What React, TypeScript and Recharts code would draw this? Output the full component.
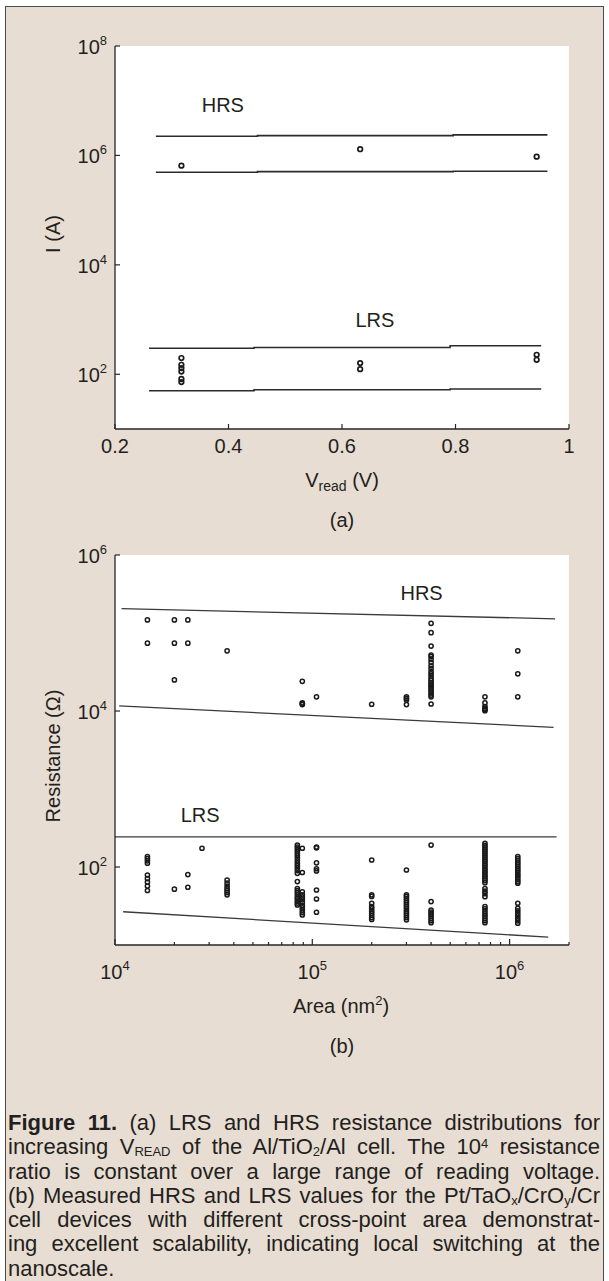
import React from 'react';
import {
  ComposedChart,
  Line,
  Scatter,
  XAxis,
  YAxis,
  CartesianGrid,
  ReferenceDot,
} from 'recharts';

const FONT = '"Liberation Sans", Arial, Helvetica, sans-serif';
const INK = '#231f20';
const FRAME = '#262626';
const BEIGE = '#e8ddd2';

// ---------- (a) read-voltage sweep, Al/TiO2/Al ----------
const vreadTicks = [0.2, 0.4, 0.6, 0.8, 1];
const currentTicks = [1e2, 1e4, 1e6, 1e8];
const vreadCols = [0.317, 0.632, 0.943];
const hrsReadVals = [[6.5e5], [1.3e6], [9.5e5]];
const lrsReadVals = [[198, 149, 130, 112, 82, 72], [160, 124], [227, 184]];
const hrsBandV = [0.272, 0.63, 0.962];
const hrsUpperA = [2.24e6, 2.3e6, 2.37e6];
const hrsLowerA = [4.93e5, 5.05e5, 5.14e5];
const lrsBandV = [0.26, 0.63, 0.951];
const lrsUpperA = [300, 308, 332];
const lrsLowerA = [50, 52, 53.7];

// ---------- (b) area scaling, Pt/TaOx/CrOy/Cr ----------
const areaTicks = [
  1e4, 2e4, 3e4, 4e4, 5e4, 6e4, 7e4, 8e4, 9e4,
  1e5, 2e5, 3e5, 4e5, 5e5, 6e5, 7e5, 8e5, 9e5,
  1e6, 2e6,
];
const resistanceTicks = [1e2, 1e4, 1e6];
const areaCols = [1.46e4, 2.0e4, 2.34e4, 2.76e4, 3.7e4, 8.4e4, 8.9e4, 1.05e5, 2.0e5, 3.0e5, 4.0e5, 7.5e5, 1.1e6];
const hrsAreaVals = [
  [1.47e5, 7.4e4],
  [1.47e5, 7.4e4, 2.5e4],
  [1.47e5, 7.4e4],
  [],
  [5.9e4],
  [],
  [2.4e4, 1.27e4, 1.24e4, 1.21e4],
  [1.52e4],
  [1.22e4],
  [1.52e4, 1.45e4, 1.38e4, 1.21e4],
  [1.33e5, 1.01e5, 6.8e4, 5.22e4, 4.99e4, 4.6e4, 4.2e4, 3.8e4, 3.5e4, 3.2e4, 3.0e4, 2.8e4, 2.6e4, 2.45e4, 2.3e4, 2.2e4, 2.1e4, 2.0e4, 1.9e4, 1.8e4, 1.7e4, 1.6e4, 1.52e4, 1.23e4],
  [1.52e4, 1.27e4, 1.14e4, 1.08e4, 1.04e4, 1.01e4],
  [5.9e4, 3.0e4, 1.52e4],
];
const lrsAreaVals = [
  [136, 128, 120, 112, 79, 71, 64, 57, 50],
  [52],
  [80, 55],
  [174],
  [68, 62, 57, 53, 50, 47, 44],
  [191, 180, 170, 160, 150, 140, 130, 120, 112, 104, 97, 90, 83, 65, 53, 50, 47, 44, 41, 39, 36.5, 34.5, 32.6],
  [174, 85, 48, 44, 41, 38, 35, 32, 30, 28, 26, 24.3],
  [180, 176, 113, 95, 89, 50.7, 38.9, 26.3],
  [123, 44, 42, 34.3, 31, 29, 27, 25.5, 24, 22.5, 21.3],
  [91.5, 44, 42, 39.5, 37, 35, 33, 31, 29, 27, 25.5, 24, 22.5, 21],
  [191, 36, 28, 26.5, 25, 23.5, 22, 20.5, 19.3],
  [201, 190, 180, 170, 160, 151, 142, 134, 126, 119, 112, 106, 100, 94, 89, 84, 79, 75, 71, 67, 63, 53, 49, 45.5, 41.6, 31, 29, 27, 25, 23.5, 22, 20.5, 19.3],
  [136, 128, 121, 114, 108, 102, 96, 91, 86, 81, 77, 73, 69, 65, 62, 34.3, 29.6, 27.5, 25.5, 23.7, 22, 20.4, 19],
];
const hrsUpperBX = [1.08e4, 1.7e6];
const hrsUpperBY = [2.05e5, 1.52e5];
const hrsLowerBX = [1.05e4, 1.67e6];
const hrsLowerBY = [1.16e4, 6.18e3];
const lrsUpperBX = [1e4, 1.73e6];
const lrsUpperBY = [243, 243];
const lrsLowerBX = [1.1e4, 1.57e6];
const lrsLowerBY = [26.7, 12.6];

const colPoints = (xs: number[], ys: number[][]) =>
  xs.flatMap((x, i) => ys[i].map((y) => ({ x, y })));
const pairLine = (xs: number[], ys: number[]) => xs.map((x, i) => ({ x, y: ys[i] }));

const hrsReadData = colPoints(vreadCols, hrsReadVals);
const lrsReadData = colPoints(vreadCols, lrsReadVals);
const hrsAreaData = colPoints(areaCols, hrsAreaVals);
const lrsAreaData = colPoints(areaCols, lrsAreaVals);

const exp10 = (v: number) => Math.round(Math.log10(v));
const isDecade = (v: number) => Math.abs(Math.log10(v) - exp10(v)) < 1e-9;

const tickLine = (x1: number, y1: number, x2: number, y2: number) => (
  <line x1={x1} y1={y1} x2={x2} y2={y2} stroke={FRAME} strokeWidth={1.2} />
);

const PowText = ({ x, y, v, anchor }: { x: number; y: number; v: number; anchor: 'start' | 'middle' | 'end' }) => (
  <text x={x} y={y} textAnchor={anchor} fontFamily={FONT} fontSize={20} fill={INK}>
    <tspan>10</tspan>
    <tspan dy={-9} fontSize={13}>{exp10(v)}</tspan>
  </text>
);

// ticks point into the plot, like the original
const vreadBottomTick = (p: any) => (
  <g>
    {tickLine(p.x, p.y, p.x, p.y - 5)}
    <text x={p.x} y={p.y + 24} textAnchor="middle" fontFamily={FONT} fontSize={20} fill={INK}>
      {p.payload.value}
    </text>
  </g>
);
const vreadTopTick = (p: any) => <g>{tickLine(p.x, p.y, p.x, p.y + 5)}</g>;

const areaBottomTick = (p: any) => {
  const v = p.payload.value;
  const major = isDecade(v);
  return (
    <g>
      {tickLine(p.x, p.y, p.x, p.y - (major ? 6 : 3))}
      {major && <PowText x={p.x} y={p.y + 34} v={v} anchor="middle" />}
    </g>
  );
};
const areaTopTick = (p: any) => {
  const major = isDecade(p.payload.value);
  return <g>{tickLine(p.x, p.y, p.x, p.y + (major ? 6 : 3))}</g>;
};

const logLeftTick = (dy: number) => (p: any) => (
  <g>
    {tickLine(p.x, p.y, p.x + 5, p.y)}
    <PowText x={p.x - 8} y={p.y + dy} v={p.payload.value} anchor="end" />
  </g>
);
const logRightTick = (p: any) => <g>{tickLine(p.x, p.y, p.x - 5, p.y)}</g>;

const ring = (r: number, sw: number) => (p: any) => (
  <circle cx={p.cx} cy={p.cy} r={r} fill="none" stroke="#1a1a1a" strokeWidth={sw} />
);

const tag = (label: string) => (p: any) => (
  <text x={p.cx} y={p.cy + 7} textAnchor="middle" fontFamily={FONT} fontSize={20} fill={INK}>
    {label}
  </text>
);

const frameLine = { stroke: FRAME, strokeWidth: 1.3 };

const PanelA = () => (
  <ComposedChart width={609} height={540} margin={{ top: 46, right: 40, bottom: 0, left: 0 }}>
    <CartesianGrid horizontal={false} vertical={false} fill="#ffffff" />
    <XAxis
      type="number"
      dataKey="x"
      domain={[0.2, 1]}
      ticks={vreadTicks}
      interval={0}
      allowDataOverflow
      height={111}
      tickSize={0}
      tickMargin={0}
      tickLine={false}
      axisLine={frameLine}
      tick={vreadBottomTick}
    />
    <XAxis
      xAxisId="top"
      orientation="top"
      type="number"
      dataKey="x"
      domain={[0.2, 1]}
      ticks={vreadTicks}
      interval={0}
      allowDataOverflow
      height={0}
      tickSize={0}
      tickMargin={0}
      tickLine={false}
      axisLine={frameLine}
      tick={vreadTopTick}
    />
    <YAxis
      type="number"
      dataKey="y"
      scale="log"
      domain={[10, 1e8]}
      ticks={currentTicks}
      interval={0}
      allowDataOverflow
      width={115}
      tickSize={0}
      tickMargin={0}
      tickLine={false}
      axisLine={frameLine}
      tick={logLeftTick(8)}
    />
    <YAxis
      yAxisId="right"
      orientation="right"
      type="number"
      dataKey="y"
      scale="log"
      domain={[10, 1e8]}
      ticks={currentTicks}
      interval={0}
      allowDataOverflow
      width={0}
      tickSize={0}
      tickMargin={0}
      tickLine={false}
      axisLine={frameLine}
      tick={logRightTick}
    />
    <Line data={pairLine(hrsBandV, hrsUpperA)} dataKey="y" type="step" stroke="#2b2b2b" strokeWidth={1.6} dot={false} isAnimationActive={false} />
    <Line data={pairLine(hrsBandV, hrsLowerA)} dataKey="y" type="step" stroke="#2b2b2b" strokeWidth={1.6} dot={false} isAnimationActive={false} />
    <Line data={pairLine(lrsBandV, lrsUpperA)} dataKey="y" type="step" stroke="#2b2b2b" strokeWidth={1.6} dot={false} isAnimationActive={false} />
    <Line data={pairLine(lrsBandV, lrsLowerA)} dataKey="y" type="step" stroke="#2b2b2b" strokeWidth={1.6} dot={false} isAnimationActive={false} />
    <Scatter data={hrsReadData} shape={ring(2.3, 1.7)} isAnimationActive={false} />
    <Scatter data={lrsReadData} shape={ring(2.3, 1.7)} isAnimationActive={false} />
    <ReferenceDot x={0.39} y={8.4e6} r={0} shape={tag('HRS')} />
    <ReferenceDot x={0.658} y={990} r={0} shape={tag('LRS')} />
  </ComposedChart>
);

const PanelB = () => (
  <ComposedChart width={609} height={560} margin={{ top: 55, right: 40, bottom: 0, left: 0 }}>
    <CartesianGrid horizontal={false} vertical={false} fill="#ffffff" />
    <XAxis
      type="number"
      dataKey="x"
      scale="log"
      domain={[1e4, 2e6]}
      ticks={areaTicks}
      interval={0}
      allowDataOverflow
      height={115}
      tickSize={0}
      tickMargin={0}
      tickLine={false}
      axisLine={frameLine}
      tick={areaBottomTick}
    />
    <XAxis
      xAxisId="top"
      orientation="top"
      type="number"
      dataKey="x"
      scale="log"
      domain={[1e4, 2e6]}
      ticks={areaTicks}
      interval={0}
      allowDataOverflow
      height={0}
      tickSize={0}
      tickMargin={0}
      tickLine={false}
      axisLine={frameLine}
      tick={areaTopTick}
    />
    <YAxis
      type="number"
      dataKey="y"
      scale="log"
      domain={[10, 1e6]}
      ticks={resistanceTicks}
      interval={0}
      allowDataOverflow
      width={115}
      tickSize={0}
      tickMargin={0}
      tickLine={false}
      axisLine={frameLine}
      tick={logLeftTick(8)}
    />
    <YAxis
      yAxisId="right"
      orientation="right"
      type="number"
      dataKey="y"
      scale="log"
      domain={[10, 1e6]}
      ticks={resistanceTicks}
      interval={0}
      allowDataOverflow
      width={0}
      tickSize={0}
      tickMargin={0}
      tickLine={false}
      axisLine={frameLine}
      tick={logRightTick}
    />
    <Line data={pairLine(hrsUpperBX, hrsUpperBY)} dataKey="y" type="linear" stroke="#3a3a3a" strokeWidth={1.3} dot={false} isAnimationActive={false} />
    <Line data={pairLine(hrsLowerBX, hrsLowerBY)} dataKey="y" type="linear" stroke="#3a3a3a" strokeWidth={1.3} dot={false} isAnimationActive={false} />
    <Line data={pairLine(lrsUpperBX, lrsUpperBY)} dataKey="y" type="linear" stroke="#3a3a3a" strokeWidth={1.3} dot={false} isAnimationActive={false} />
    <Line data={pairLine(lrsLowerBX, lrsLowerBY)} dataKey="y" type="linear" stroke="#3a3a3a" strokeWidth={1.3} dot={false} isAnimationActive={false} />
    <Scatter data={hrsAreaData} shape={ring(2.1, 1.5)} isAnimationActive={false} />
    <Scatter data={lrsAreaData} shape={ring(2.1, 1.5)} isAnimationActive={false} />
    <ReferenceDot x={3.58e5} y={3.26e5} r={0} shape={tag('HRS')} />
    <ReferenceDot x={2.7e4} y={464} r={0} shape={tag('LRS')} />
  </ComposedChart>
);

const Centered = ({ x, y, rotate, children }: { x: number; y: number; rotate?: boolean; children: React.ReactNode }) => (
  <div
    style={{
      position: 'absolute',
      left: x,
      top: y,
      transform: `translate(-50%, -50%)${rotate ? ' rotate(-90deg)' : ''}`,
      whiteSpace: 'nowrap',
      fontSize: 20,
      lineHeight: '20px',
      color: INK,
    }}
  >
    {children}
  </div>
);

const Sub = ({ children, size = 14, shift = 4 }: { children: React.ReactNode; size?: number; shift?: number }) => (
  <span style={{ fontSize: size, position: 'relative', top: shift, lineHeight: 0 }}>{children}</span>
);

const captionLines: React.ReactNode[] = [
  <><b>Figure 11.</b> (a) LRS and HRS resistance distributions for</>,
  <>increasing V<Sub size={13} shift={2}>READ</Sub> of the Al/TiO<Sub size={13} shift={2}>2</Sub>/Al cell. The 10<Sub size={13} shift={-6}>4</Sub> resistance</>,
  <>ratio is constant over a large range of reading voltage.</>,
  <>(b) Measured HRS and LRS values for the Pt/TaO<Sub size={13} shift={2}>x</Sub>/CrO<Sub size={13} shift={2}>y</Sub>/Cr</>,
  <>cell devices with different cross-point area demonstrat-</>,
  <>ing excellent scalability, indicating local switching at the</>,
  <>nanoscale.</>,
];

export default function App() {
  return (
    <div
      style={{
        position: 'absolute',
        left: 0,
        top: 0,
        width: 609,
        height: 1281,
        overflow: 'hidden',
        background: '#ffffff',
        fontFamily: FONT,
        color: INK,
      }}
    >
      <div
        style={{
          position: 'absolute',
          left: 5,
          top: 6,
          width: 599,
          height: 1320,
          background: BEIGE,
          border: '1.5px solid #4a4a4a',
          boxSizing: 'border-box',
        }}
      />
      <div style={{ position: 'absolute', left: 0, top: 0 }}>
        <PanelA />
      </div>
      <div style={{ position: 'absolute', left: 0, top: 500 }}>
        <PanelB />
      </div>

      <Centered x={53} y={234} rotate>I (A)</Centered>
      <Centered x={342} y={480}>
        V<Sub>read</Sub> (V)
      </Centered>
      <Centered x={342} y={520}>(a)</Centered>

      <Centered x={53} y={756} rotate>Resistance (Ω)</Centered>
      <Centered x={341} y={1006}>
        Area (nm<Sub size={13} shift={-8}>2</Sub>)
      </Centered>
      <Centered x={342} y={1046}>(b)</Centered>

      <div style={{ position: 'absolute', left: 8, top: 1111, width: 592, fontSize: 22, lineHeight: '24.3px', color: INK }}>
        {captionLines.map((ln, i) => (
          <div
            key={i}
            style={{
              textAlign: i === captionLines.length - 1 ? 'left' : 'justify',
              textAlignLast: i === captionLines.length - 1 ? 'left' : 'justify',
              whiteSpace: 'nowrap',
              height: 24.3,
            }}
          >
            {ln}
          </div>
        ))}
      </div>
    </div>
  );
}
